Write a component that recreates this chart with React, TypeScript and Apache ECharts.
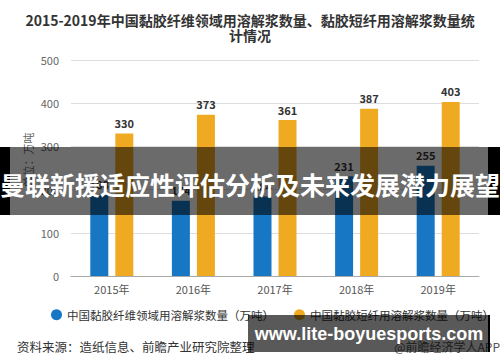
import React, { useEffect, useRef } from "react";
import * as echarts from "echarts";

const categories = ["2015年", "2016年", "2017年", "2018年", "2019年"];
const fiberValues = [188, 174, 184, 231, 255];
const shortFiberValues = [330, 373, 361, 387, 403];
const seriesNames = ["中国黏胶纤维领域用溶解浆数量（万吨）", "中国黏胶短纤用溶解浆数量（万吨）"];
const titleText = "2015-2019年中国黏胶纤维领域用溶解浆数量、黏胶短纤用溶解浆数量统\n计情况";
const bannerText = "曼联新援适应性评估分析及未来发展潜力展望";
const watermarkText = "www.lite-boyuesports.com";
const sourceText = "资料来源：造纸信息、前瞻产业研究院整理";
const creditText = "@前瞻经济学人APP";
const unitText = "单位：万吨";

const FONT = "'Noto Sans CJK SC', 'Noto Sans', sans-serif";

export default function App() {
  const ref = useRef<HTMLDivElement>(null);
  useEffect(() => {
    if (!ref.current) return;
    const chart = echarts.init(ref.current, null, { renderer: "svg" });
    const labelStyle = {
      show: true,
      position: "top",
      distance: 5,
      color: "#333",
      fontWeight: "bold",
      fontSize: 11,
      fontFamily: FONT,
    };
    chart.setOption({
      animation: false,
      backgroundColor: "#fff",
      textStyle: { fontFamily: FONT },
      title: {
        text: titleText,
        left: "center",
        top: 7,
        textStyle: { fontSize: 14, fontWeight: "bold", color: "#333", lineHeight: 15, fontFamily: FONT },
      },
      legend: {
        top: 309,
        left: 51,
        width: 449,
        padding: 0,
        icon: "circle",
        itemWidth: 11,
        itemHeight: 11,
        itemGap: 20,
        itemTextGap: 4,
        textStyle: { fontSize: 11.5, color: "#333", fontFamily: FONT },
        data: seriesNames,
      },
      grid: { left: 71, right: 21, top: 60, bottom: 86 },
      xAxis: {
        type: "category",
        data: categories,
        axisLine: { lineStyle: { color: "#aaa" } },
        axisTick: { alignWithLabel: true, length: 4, lineStyle: { color: "#aaa" } },
        axisLabel: { color: "#555", fontSize: 11, margin: 7, fontFamily: FONT },
      },
      yAxis: {
        type: "value",
        min: 0,
        max: 500,
        interval: 100,
        axisLine: { show: false },
        axisTick: { show: false },
        axisLabel: { color: "#666", fontSize: 11, margin: 12, fontFamily: FONT },
        splitLine: { lineStyle: { color: "#ddd" } },
      },
      series: [
        {
          name: seriesNames[0],
          type: "bar",
          data: fiberValues,
          barWidth: 18,
          barGap: "39%",
          itemStyle: { color: "#1777C4" },
          label: labelStyle,
        },
        {
          name: seriesNames[1],
          type: "bar",
          data: shortFiberValues,
          barWidth: 18,
          itemStyle: { color: "#F0AA22" },
          label: labelStyle,
        },
      ],
      graphic: [
        {
          type: "text",
          x: 28,
          y: 160,
          rotation: Math.PI / 2,
          style: { text: unitText, fill: "#666", fontSize: 11, fontFamily: FONT, align: "center", verticalAlign: "middle" },
          z: 50,
        },
        {
          type: "text",
          x: 17,
          y: 346,
          style: { text: sourceText, fill: "#333", fontSize: 12.5, fontFamily: FONT, verticalAlign: "middle" },
          z: 50,
        },
        {
          type: "text",
          x: 500,
          y: 346,
          style: { text: creditText, fill: "#555", fontSize: 12, fontFamily: FONT, align: "right", verticalAlign: "middle" },
          z: 50,
        },
        { type: "rect", shape: { x: 0, y: 147, width: 10, height: 68 }, style: { fill: "#000" }, z: 100 },
        { type: "rect", shape: { x: 488, y: 147, width: 12, height: 68 }, style: { fill: "#000" }, z: 100 },
        { type: "rect", shape: { x: 10, y: 147, width: 478, height: 68 }, style: { fill: "rgba(0,0,0,0.58)" }, z: 100 },
        {
          type: "text",
          x: 250,
          y: 184,
          style: {
            text: bannerText,
            fill: "#fff",
            fontSize: 25,
            fontWeight: "bold",
            fontFamily: FONT,
            align: "center",
            verticalAlign: "middle",
          },
          z: 101,
        },
        { type: "rect", shape: { x: 248, y: 315, width: 242, height: 37 }, style: { fill: "rgba(0,0,0,0.65)" }, z: 100 },
        { type: "rect", shape: { x: 488, y: 315, width: 2, height: 37 }, style: { fill: "#000" }, z: 100 },
        {
          type: "text",
          x: 369,
          y: 334,
          style: {
            text: watermarkText,
            fill: "#fff",
            fontSize: 18,
            fontWeight: "bold",
            fontFamily: "'Liberation Sans', Arial, sans-serif",
            align: "center",
            verticalAlign: "middle",
          },
          z: 101,
        },
      ],
    });
    return () => chart.dispose();
  }, []);
  return <div ref={ref} style={{ width: 500, height: 362, position: "absolute", left: 0, top: 0 }} />;
}
